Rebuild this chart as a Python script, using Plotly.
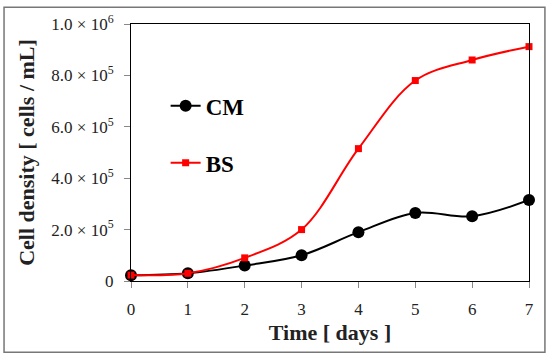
import plotly.graph_objects as go

days = [0, 1, 2, 3, 4, 5, 6, 7]
cm_values = [2.2e4, 3.0e4, 6.0e4, 1.0e5, 1.9e5, 2.65e5, 2.52e5, 3.15e5]
bs_values = [2.3e4, 3.0e4, 9.0e4, 2.0e5, 5.15e5, 7.8e5, 8.6e5, 9.12e5]

y_tickvals = [0, 2e5, 4e5, 6e5, 8e5, 1e6]
y_ticktext = ["0", "2.0 × 10<sup>5</sup>", "4.0 × 10<sup>5</sup>", "6.0 × 10<sup>5</sup>",
              "8.0 × 10<sup>5</sup>", "1.0 × 10<sup>6</sup>"]
x_tickvals = days

FONT = "Liberation Serif"

fig = go.Figure()
fig.add_trace(go.Scatter(
    x=days, y=cm_values, name="CM", mode="lines+markers",
    line=dict(color="black", width=2, shape="spline"),
    marker=dict(symbol="circle", size=12, color="black"),
    cliponaxis=False, legendgroup="cm",
))
fig.add_trace(go.Scatter(
    x=days, y=bs_values, name="BS", mode="lines+markers",
    line=dict(color="#ff0000", width=2, shape="spline"),
    marker=dict(symbol="square", size=7, color="#ff0000"),
    cliponaxis=False, legendgroup="bs",
))

axis_common = dict(
    showline=True, linecolor="black", linewidth=1, mirror=True,
    showgrid=False, zeroline=False, ticks="outside", tickcolor="#888",
    ticklen=6, tickfont=dict(family=FONT, size=17, color="#222"),
    ticklabelstandoff=7,
)

fig.update_layout(
    width=550, height=358,
    margin=dict(l=131, r=21, t=21, b=77),
    paper_bgcolor="white", plot_bgcolor="white",
    font=dict(family=FONT, color="black"),
    showlegend=True,
    legend=dict(
        x=0.087, y=0.765, xanchor="left", yanchor="top",
        font=dict(family=FONT, size=23, color="black", weight="bold"),
        bgcolor="rgba(0,0,0,0)", tracegroupgap=24,
        itemwidth=30,
    ),
    xaxis=dict(
        range=[0, 7], tickvals=x_tickvals,
        title=dict(text="<b>Time [ days ]</b>", font=dict(family=FONT, size=22, color="#222"), standoff=6),
        **axis_common,
    ),
    yaxis=dict(
        range=[0, 1e6], tickvals=y_tickvals, ticktext=y_ticktext,
        title=dict(text="<b>Cell density [ cells / mL]</b>", font=dict(family=FONT, size=22, color="#222"), standoff=10),
        **axis_common,
    ),
    shapes=[dict(
        type="rect", xref="paper", yref="paper",
        x0=-0.319, x1=1.040, y0=-0.277, y1=1.065,
        line=dict(color="#777", width=1.5), fillcolor="rgba(0,0,0,0)", layer="below",
    )],
)

fig.write_html("out.html", post_script="document.body.style.margin='0';",
               config={"displayModeBar": False})
